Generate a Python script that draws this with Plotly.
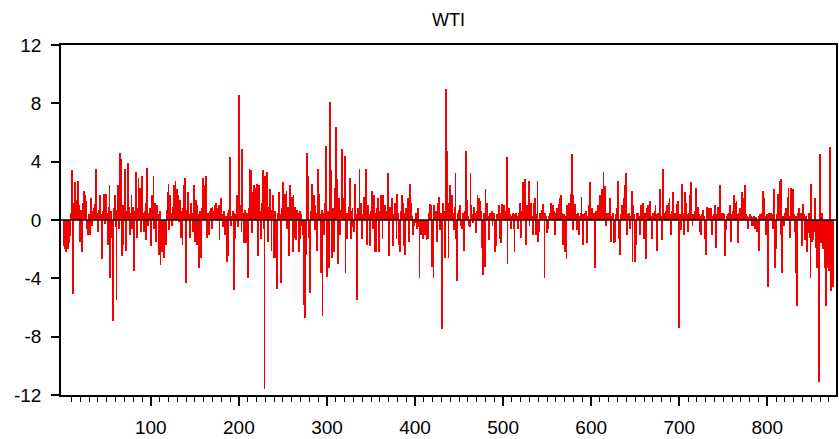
import plotly.graph_objects as go

# WTI daily returns
wti_returns = [
    -1.8, -2.0, -1.5, -2.2, -1.2, -2.0, -1.6, -1.1, 0.5, 3.4,
    0.8, -5.1, 1.2, 2.6, 1.4, 0.9, 2.7, 1.0, 0.6, -1.5,
    0.7, -2.2, 1.2, 2.0, 1.7, 0.9, 1.3, -0.6, -1.0, 0.4,
    -1.0, 1.5, -0.4, 0.6, 0.8, 0.3, 1.1, 3.5, 0.5, -0.8,
    0.7, 1.7, 0.4, -0.5, -2.7, 0.6, 1.8, -0.3, 1.8, 0.5,
    -1.7, 0.9, 2.4, -4.0, 0.6, -1.2, -6.9, 0.8, 1.7, -0.5,
    -5.5, 0.7, 2.4, -0.6, 4.6, 4.2, -2.5, 1.0, -1.7, 0.8,
    3.5, -2.1, 0.6, 3.9, 0.9, -1.0, 0.5, 1.7, -0.6, 0.9,
    -3.5, 0.6, 3.3, -1.2, 0.8, 2.9, 1.2, 2.2, -0.8, 3.0,
    0.5, -0.8, 0.6, 1.2, -1.4, 3.6, -0.4, 0.5, 0.8, -1.8,
    1.7, 0.6, 3.0, -0.6, 1.2, -1.5, 1.0, 0.4, -2.4, 0.6,
    -3.1, -0.9, -2.2, -1.4, -2.6, -0.8, -1.7, 0.7, 1.9, 2.5,
    -0.7, 1.7, 0.5, -0.4, 0.9, 2.4, 1.1, 2.7, 0.8, 2.1,
    1.7, -0.1, 1.4, -1.2, 0.6, -1.7, 0.8, 2.4, 2.9, -4.3,
    0.7, 1.9, 0.4, -1.2, 0.6, 1.2, 0.5, -0.8, 2.4, -1.5,
    1.4, -1.7, 1.0, 0.4, -3.3, 0.6, -2.6, 0.8, 2.9, 1.2,
    2.4, 0.7, 3.0, -1.2, 0.5, -1.0, 0.6, 0.8, -0.6, 0.9,
    0.5, 0.6, 1.0, 1.2, 0.7, 0.8, 1.0, -1.4, 0.6, 1.5,
    0.4, -0.5, 0.6, -1.0, 0.3, -2.9, 0.5, -2.5, 0.7, 4.3,
    -0.4, 0.3, 0.6, -4.8, 0.5, -1.3, 0.4, 1.7, -0.5, 8.6,
    0.6, 1.0, -0.8, 4.9, 0.5, -1.6, 0.7, -1.6, 0.5, -4.0,
    0.8, 3.5, 1.0, 3.4, -0.9, 1.9, 2.4, 0.7, 2.2, 1.1,
    2.5, -2.5, 2.4, 0.6, -1.3, 1.2, 3.4, -0.6, -11.6, 3.0,
    0.8, 3.3, -1.5, 0.9, 2.1, 0.5, -2.1, 0.7, 1.7, -2.6,
    0.6, -2.6, -4.7, 0.5, 1.2, 1.9, 0.4, -4.3, 0.8, 2.6,
    1.0, 1.8, 0.6, 2.0, -0.6, 0.9, -2.5, 2.4, 0.5, 1.6,
    -2.2, 1.7, -1.2, 0.9, -1.4, 0.7, 0.5, -2.2, 0.6, -1.3,
    0.4, -0.4, -1.0, -5.8, -6.7, -2.4, 4.6, 0.8, 3.0, -1.2,
    -5.0, 0.6, 2.5, 0.9, 1.7, -0.7, 1.0, 0.5, -2.1, 3.5,
    1.8, 0.4, -3.6, 0.7, -6.6, 0.5, -1.0, 1.2, 5.1, -3.9,
    0.6, -3.3, 8.1, 1.0, 3.4, -2.6, 0.8, -2.2, 2.2, 6.4,
    0.5, 2.8, -3.0, 1.5, -1.0, 0.7, 4.9, 1.5, 0.6, 4.4,
    -3.6, 0.5, -1.3, 0.5, 0.9, 2.9, -1.3, 0.6, 0.8, -0.5,
    -0.8, 2.5, 0.4, -5.5, 0.8, 0.5, 3.5, 0.6, 1.2, -1.3,
    0.4, 1.6, 0.7, 3.5, -1.7, 0.5, 1.0, 0.4, -1.8, 0.6,
    2.0, -0.6, 1.7, -2.2, 0.5, -2.2, 0.8, 1.5, -2.2, 0.6,
    1.7, 0.4, -1.3, 1.7, 0.5, 1.0, 0.3, 0.6, 3.2, -2.5,
    0.5, 0.9, 0.6, 1.5, -1.8, 0.4, 1.2, 0.7, -1.3, 1.8,
    0.5, -1.7, -2.2, 0.6, 1.7, 1.2, -1.8, 0.5, -2.4, 0.8,
    0.4, 1.5, -1.5, 2.5, 0.6, 1.2, 0.3, -1.0, -0.4, -0.2,
    0.5, -0.6, 0.8, -0.5, -4.0, -0.8, -1.0, -0.6, -1.3, -0.9,
    -1.0, -0.5, -1.4, -0.8, -1.3, 0.5, 1.1, 1.0, -3.2, -0.8,
    -4.0, 1.0, 0.4, 0.6, -1.5, 1.2, 1.6, -0.7, 0.5, -2.6,
    -7.5, 1.2, 0.6, -2.6, 9.0, 4.7, 0.8, -2.6, 1.2, 2.4,
    0.6, 1.7, 0.5, -0.7, 0.9, 3.2, -1.3, -4.2, 0.5, 0.7,
    1.0, -0.4, -0.6, 0.5, -2.0, -2.1, 0.6, 4.7, 1.4, 0.3,
    -0.4, -0.5, 3.2, 1.0, 0.4, -0.2, 0.9, 0.5, -0.9, 0.6,
    1.7, 0.4, 1.5, 1.3, 0.6, -1.9, -3.8, 0.5, -3.2, 2.1,
    0.4, 1.2, 0.3, -1.4, 0.5, 0.3, 0.6, -0.4, 0.3, 0.5,
    -2.2, -1.8, 0.4, 0.2, 1.0, -1.3, 0.5, -1.6, 1.1, 0.4,
    1.0, 0.6, 0.3, 4.3, -3.0, 0.5, 0.8, 0.4, -0.6, 0.3,
    0.5, -0.6, -2.2, 0.4, 0.5, 0.3, -0.6, 0.5, 1.2, -1.2,
    0.6, 1.2, 2.6, 0.5, 2.8, -1.7, 1.0, 0.4, 2.7, -0.4,
    0.6, 1.2, 0.3, -1.0, 1.2, 1.5, -1.0, 0.4, 2.7, -1.5,
    -0.8, 0.5, 0.3, 0.7, 1.1, 0.4, -4.0, 0.5, 0.3, -0.9,
    -0.6, 0.3, 0.5, 1.2, 0.7, 0.4, 1.0, 0.6, -1.0, 0.5,
    0.8, 0.4, 1.1, 0.6, 1.5, 1.7, 0.5, -1.7, 0.4, -2.2,
    0.3, -2.7, 1.0, 0.6, 1.2, 0.5, 1.8, 4.5, -0.7, 1.7,
    0.6, 1.1, 0.4, -0.7, 0.5, -1.0, 0.3, 0.5, 1.6, 0.4,
    -1.7, 0.4, 0.5, 0.6, -1.6, 0.3, 1.0, 0.5, 2.6, 0.4,
    0.8, 0.3, 0.5, -3.3, 0.6, 0.3, 0.5, 1.0, 0.6, 1.7,
    0.5, 2.1, 0.8, 3.3, 0.6, 2.3, -0.4, 0.5, 0.3, 0.5,
    1.5, 0.4, -1.5, 0.3, 0.5, -1.6, -1.5, 0.4, 0.8, 2.7,
    0.5, -1.3, -2.4, 0.4, 1.0, 0.6, 1.5, 2.4, 0.5, 3.2,
    -1.0, 0.4, 0.5, -0.6, 0.3, 2.0, -2.9, 1.0, 0.4, -2.9,
    -1.7, 0.5, 0.5, 0.3, -1.0, 0.6, 1.0, 0.4, 1.2, -1.3,
    0.5, -2.7, 0.8, 0.4, 1.0, 0.5, 1.3, 0.3, -1.3, 0.5,
    0.3, 0.6, 1.0, 0.4, -2.1, 0.5, 0.4, 2.1, 0.3, -1.4,
    0.6, 3.5, 0.4, 0.5, 0.6, 1.0, 0.3, 1.2, 1.5, 0.4,
    -1.0, 0.6, 1.9, 0.3, 0.5, 0.4, 1.1, 0.6, 1.3, -7.4,
    0.4, -0.7, 2.5, 0.5, -1.0, 0.3, 1.9, 1.2, 0.4, -0.8,
    0.5, 1.7, 2.6, 0.4, -0.4, 0.3, 0.4, 0.6, 2.2, 0.3,
    0.9, 0.4, -0.8, 0.3, -1.0, 0.4, 0.7, 0.3, -1.3, -2.4,
    0.5, 0.9, 0.3, 0.8, 0.4, 0.8, -1.0, 0.3, 0.4, 0.6,
    1.0, -1.9, 0.4, 0.9, 0.3, 2.4, 0.4, 0.5, 0.3, 0.5,
    0.4, -2.5, -0.7, 0.3, 0.4, 0.5, 0.3, 1.0, -1.5, 0.4,
    0.6, 1.7, 1.2, 0.5, 1.3, 0.4, -1.6, 0.5, 0.8, 0.3,
    1.9, 0.5, 1.5, 0.4, 2.4, 0.4, 0.3, -0.6, 0.2, 0.4,
    0.3, -0.4, 0.2, -0.4, 0.3, -0.6, 0.2, -0.8, -0.5, 0.3,
    -2.1, 0.4, 0.2, 0.5, 2.0, 1.5, 0.3, -0.8, -1.0, 0.4,
    -4.6, 0.5, 0.3, 0.5, 0.4, -0.6, 0.5, 2.1, -3.3, -2.0,
    0.4, 1.8, 0.5, 2.7, -1.0, 2.8, -3.6, 0.3, -0.4, 0.5,
    0.8, 0.4, 1.6, 2.2, 0.3, -1.2, 2.2, 0.5, 2.1, 0.4,
    -0.8, -3.6, 0.3, -5.9, 0.5, 0.8, 0.4, 0.5, -1.8, 0.3,
    1.1, 0.4, -1.4, 0.3, -2.2, -0.9, 0.5, -1.2, -4.0, 2.5,
    -1.5, -1.4, -0.8, 1.5, -1.9, -3.3, -0.8, -2.5, -11.1, 4.5,
    -1.6, 0.5, -2.0, -0.6, -2.4, -3.3, -5.9, -3.3, -2.7, -3.5,
    5.0, -4.9, -3.5, -2.0, -4.6,
]
obs_index = list(range(1, len(wti_returns) + 1))

title_text = "WTI"
y_tick_values = [-12, -8, -4, 0, 4, 8, 12]
y_tick_labels = ["-12", "-8", "-4", "0", "4", "8", "12"]
x_tick_values = [100, 200, 300, 400, 500, 600, 700, 800]
x_tick_labels = ["100", "200", "300", "400", "500", "600", "700", "800"]
x_minor_values = list(range(10, 880, 10))

fig = go.Figure()
fig.add_trace(go.Bar(
    x=obs_index,
    y=wti_returns,
    width=1.0,
    marker=dict(color="#f40000", line=dict(width=0)),
    showlegend=False,
))

fig.update_layout(
    width=839,
    height=439,
    margin=dict(l=61, r=1, t=45, b=41),
    paper_bgcolor="white",
    plot_bgcolor="white",
    bargap=0,
    font=dict(family="Liberation Sans, Arial, sans-serif", size=19, color="black"),
    title=dict(text=title_text, x=0.5, xref="paper", xanchor="center",
               y=0.955, yref="container", yanchor="middle",
               font=dict(size=18, color="black")),
    xaxis=dict(
        range=[-2, 878],
        tickmode="array", tickvals=x_tick_values, ticktext=x_tick_labels,
        ticks="outside", ticklen=9, tickwidth=1.5, tickcolor="black",
        minor=dict(tickmode="array", tickvals=x_minor_values, ticks="outside",
                   ticklen=5, tickwidth=1.2, tickcolor="black", showgrid=False),
        showline=True, linecolor="black", linewidth=1.5, mirror=True,
        showgrid=False, zeroline=False,
        ticklabelstandoff=5,
    ),
    yaxis=dict(
        range=[-12, 12],
        tickmode="array", tickvals=y_tick_values, ticktext=y_tick_labels,
        ticks="outside", ticklen=8, tickwidth=1.5, tickcolor="black",
        showline=True, linecolor="black", linewidth=1.5, mirror=True,
        showgrid=False, zeroline=False,
        ticklabelstandoff=6,
    ),
    shapes=[dict(type="line", xref="paper", x0=0, x1=1, yref="y", y0=0, y1=0,
                 line=dict(color="black", width=1.5), layer="above")],
)

fig.write_html("out.html")
